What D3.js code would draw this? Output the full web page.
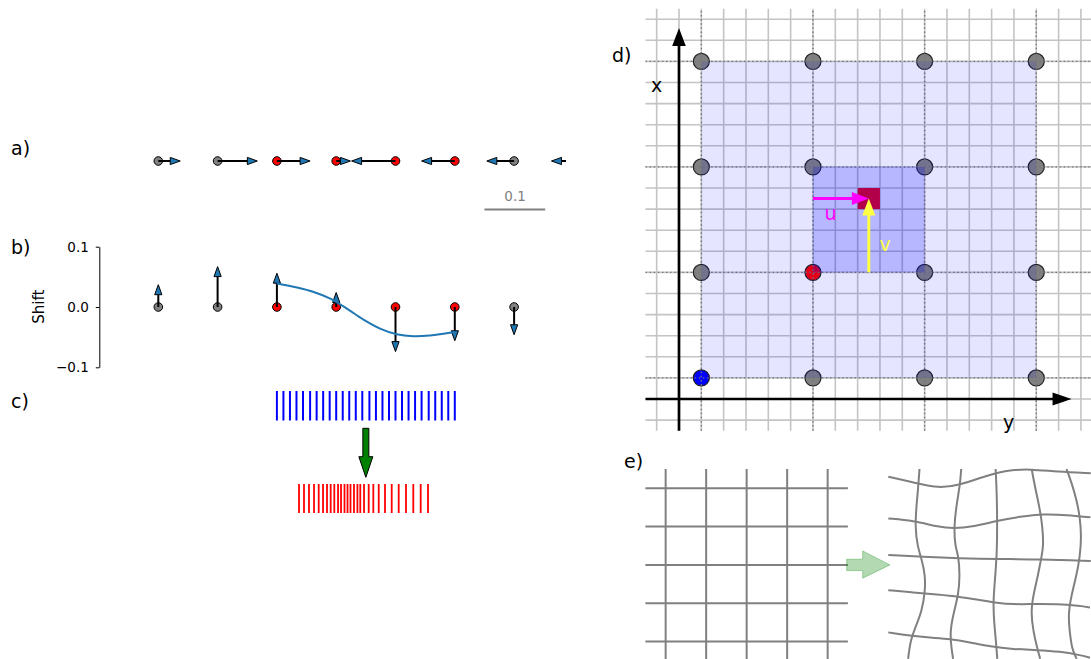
<!DOCTYPE html>
<html><head><meta charset="utf-8">
<script src="https://cdn.jsdelivr.net/npm/d3@7"></script>
<style>body{margin:0;background:#fff}svg{display:block;font-family:"DejaVu Sans",sans-serif}</style>
</head><body>
<svg id="fig" width="1091" height="659"></svg>
<script>
// ---------- data ----------
const pointX = [0, 0.1, 0.2, 0.3, 0.4, 0.5, 0.6, 0.7];
const pointKind = ['fixed','fixed','moving','moving','moving','moving','fixed','fixed'];
const shifts = [0.037, 0.067, 0.056, 0.024, -0.074, -0.056, -0.046, -0.037];
const curveX = [0.200, 0.234, 0.262, 0.290, 0.318, 0.346, 0.374, 0.402, 0.430, 0.458, 0.500];
const curveY = [0.0388, 0.0322, 0.0249, 0.0139, -0.0027, -0.0209, -0.0358, -0.0453, -0.0486, -0.0474, -0.0415];
const shiftTicks = [-0.1, 0.0, 0.1];
const scaleBarLabel = "0.1";
const blueLines = [0.200,0.211,0.222,0.233,0.244,0.256,0.267,0.278,0.289,0.300,0.311,0.322,0.333,0.344,
                   0.356,0.367,0.378,0.389,0.400,0.411,0.422,0.433,0.444,0.456,0.467,0.478,0.489,0.500];
const redLines = [0.2373,0.2457,0.2541,0.2626,0.2705,0.2778,0.2845,0.2907,0.2968,0.3031,0.3081,0.3140,0.3191,0.3241,
                  0.3300,0.3358,0.3406,0.3469,0.3548,0.3626,0.3717,0.3823,0.3936,0.4054,0.4177,0.4300,0.4425,0.4548];
// panel d (grid units)
const dFine = [-1,0,1,2,3,4,5,6,7,8,9,10,11,12,13,14,15,16,17,18];
const dNodes = [1, 6, 11, 16];
const dRedNode = [6, 6];
const dBlueNode = [1, 1];
const dOuterCell = [1, 16];
const dInnerCell = [6, 11];
const dTarget = {x0: 8, x1: 9, y0: 9, y1: 10};
const dU = {x0: 6, y0: 9.5, x1: 8.5, y1: 9.5};
const dV = {x0: 8.5, y0: 6, x1: 8.5, y1: 9.5};
// panel e (grid units)
const eRegular = [0.5, 1.5, 2.5, 3.5, 4.5];
const eWarpH = [
  [[0,0.20],[0.70,0.37],[1.23,0.50],[1.77,0.42],[2.35,0.20],[2.92,0.03],[3.50,0.0],[4.16,0.07],[5.0,0.11]],
  [[0,1.29],[0.62,1.35],[1.20,1.50],[1.61,1.56],[2.11,1.50],[2.68,1.35],[3.26,1.24],[3.84,1.17],[4.41,1.20],[4.99,1.26]],
  [[0,2.24],[0.86,2.29],[1.77,2.33],[2.68,2.35],[3.75,2.35],[5.0,2.40]],
  [[0,3.16],[0.62,3.22],[1.20,3.27],[1.77,3.33],[2.26,3.42],[2.68,3.49],[3.09,3.53],[3.58,3.52],[4.16,3.52],[4.73,3.57],[4.98,3.61]],
  [[0,4.26],[0.54,4.35],[1.03,4.40],[1.52,4.43],[2.02,4.52],[2.51,4.63],[3.09,4.70],[3.66,4.72],[4.24,4.76],[4.73,4.85],[4.98,4.92]]
];
const eWarpV = [
  [[0.77,0],[0.74,0.46],[0.70,0.89],[0.66,1.50],[0.72,2.02],[0.83,2.37],[0.91,2.76],[0.91,3.19],[0.83,3.71],[0.66,4.15],[0.54,4.50],[0.49,4.95]],
  [[1.80,0],[1.77,0.42],[1.69,0.89],[1.62,1.50],[1.65,2.02],[1.73,2.24],[1.77,2.76],[1.73,3.29],[1.62,3.72],[1.52,4.24],[1.56,4.68],[1.60,4.95]],
  [[2.65,0],[2.68,0.64],[2.69,1.50],[2.68,2.24],[2.63,2.94],[2.59,3.46],[2.61,3.98],[2.66,4.50],[2.69,4.95]],
  [[3.54,0],[3.62,0.46],[3.73,0.98],[3.81,1.50],[3.83,2.02],[3.79,2.24],[3.70,2.76],[3.58,3.29],[3.52,3.72],[3.58,4.24],[3.68,4.68],[3.75,4.95]],
  [[4.40,0],[4.53,0.37],[4.65,0.81],[4.73,1.24],[4.77,1.77],[4.73,2.29],[4.65,2.76],[4.52,3.29],[4.44,3.81],[4.48,4.24],[4.53,4.68],[4.65,4.95]]
];

// ---------- setup ----------
const svg = d3.select('#fig');
const BLUE = '#1f77b4';
const kindColor = k => k === 'moving' ? '#ff0000' : '#808080';

const defs = svg.append('defs');
defs.append('clipPath').attr('id','clipAB').append('rect').attr('x',0).attr('y',0).attr('width',566).attr('height',400);

function arrowHead(g, x1, y1, x2, y2, len, hw, fill, stroke, sw) {
  const dx = x2 - x1, dy = y2 - y1, L = Math.hypot(dx, dy);
  const ux = dx / L, uy = dy / L, px = -uy, py = ux;
  const bx = x2 - ux * len, by = y2 - uy * len;
  g.append('polygon')
    .attr('points', [[x2, y2], [bx + px * hw, by + py * hw], [bx - px * hw, by - py * hw]].map(p => p.join(',')).join(' '))
    .attr('fill', fill).attr('stroke', stroke || 'none').attr('stroke-width', sw || 0)
    .attr('stroke-linejoin', 'miter');
  return [bx, by];
}
function quiverArrow(g, x1, y1, x2, y2) {
  const dx = x2 - x1, dy = y2 - y1, L = Math.hypot(dx, dy);
  const ux = dx / L, uy = dy / L;
  const len = 10;
  g.append('line').attr('x1', x1).attr('y1', y1).attr('x2', x2 - ux * len).attr('y2', y2 - uy * len)
    .attr('stroke', '#000').attr('stroke-width', 2);
  arrowHead(g, x1, y1, x2, y2, len, 3.6, BLUE, '#000', 1);
}

// panel letters
const letters = [['a)', 11, 155], ['b)', 11, 254], ['c)', 11, 408], ['d)', 612, 62], ['e)', 624, 468]];
svg.selectAll('text.letter').data(letters).enter().append('text').attr('class','letter')
  .attr('x', d => d[1]).attr('y', d => d[2]).attr('font-size', 19).text(d => d[0]);

// ---------- panel a ----------
const xA = d3.scaleLinear().domain([0, 0.7]).range([158.3, 573.4]);
const gA = svg.append('g').attr('clip-path', 'url(#clipAB)');
const rowA = 161;
pointX.forEach((x, i) => {
  gA.append('circle').attr('cx', xA(x)).attr('cy', rowA).attr('r', 4.3)
    .attr('fill', kindColor(pointKind[i])).attr('stroke', '#000').attr('stroke-width', 1);
});
pointX.forEach((x, i) => {
  quiverArrow(gA, xA(x), rowA, xA(x + shifts[i]), rowA);
});
// scale bar
svg.append('line').attr('x1', xA(0.55)).attr('x2', xA(0.65) + 1.5).attr('y1', 209.5).attr('y2', 209.5)
  .attr('stroke', '#808080').attr('stroke-width', 2);
svg.append('text').attr('x', (xA(0.55) + xA(0.65)) / 2 + 1).attr('y', 200.5).attr('text-anchor', 'middle')
  .attr('font-size', 13.5).attr('fill', '#808080').text(scaleBarLabel);

// ---------- panel b ----------
const yB = d3.scaleLinear().domain([-0.1, 0.1]).range([367.3, 246.7]);
const axB = svg.append('g').attr('transform', 'translate(99.3,0)')
  .call(d3.axisLeft(yB).tickValues(shiftTicks).tickFormat(d3.format('.1f')).tickSize(3.5).tickSizeOuter(0).tickPadding(7));
axB.attr('font-size', null).attr('font-family', null);
axB.select('.domain').attr('stroke', '#000').attr('stroke-width', 1);
axB.selectAll('.tick line').attr('stroke', '#000').attr('stroke-width', 1);
axB.selectAll('.tick text').style('font-size', '13.5px').style('font-family', '"DejaVu Sans",sans-serif').attr('fill', '#000');
svg.append('text').attr('transform', 'translate(43.5,306.7) rotate(-90)').attr('text-anchor', 'middle')
  .style('font-size', '15px').text('Shift');
const gB = svg.append('g').attr('clip-path', 'url(#clipAB)');
pointX.forEach((x, i) => {
  gB.append('circle').attr('cx', xA(x)).attr('cy', yB(0)).attr('r', 4.3)
    .attr('fill', kindColor(pointKind[i])).attr('stroke', '#000').attr('stroke-width', 1);
});
pointX.forEach((x, i) => {
  quiverArrow(gB, xA(x), yB(0), xA(x), yB(shifts[i]));
});
gB.append('path').datum(curveX.map((x, i) => [x, curveY[i]]))
  .attr('d', d3.line().x(d => xA(d[0])).y(d => yB(d[1])).curve(d3.curveCatmullRom))
  .attr('fill', 'none').attr('stroke', BLUE).attr('stroke-width', 2);

// ---------- panel c ----------
const gC = svg.append('g');
gC.selectAll('line.blue').data(blueLines).enter().append('line')
  .attr('x1', d => xA(d)).attr('x2', d => xA(d)).attr('y1', 391).attr('y2', 420.5)
  .attr('stroke', '#0000ff').attr('stroke-width', 2);
gC.selectAll('line.red').data(redLines).enter().append('line')
  .attr('x1', d => xA(d)).attr('x2', d => xA(d)).attr('y1', 484).attr('y2', 513)
  .attr('stroke', '#ff0000').attr('stroke-width', 1.8);
{
  const cx = xA(0.35);
  const pts = [[cx - 3, 428.3], [cx + 3, 428.3], [cx + 3, 456.7], [cx + 7, 456.7], [cx, 477.3], [cx - 7, 456.7], [cx - 3, 456.7]];
  gC.append('polygon').attr('points', pts.map(p => p.join(',')).join(' '))
    .attr('fill', '#008000').attr('stroke', '#000').attr('stroke-width', 1);
}

// ---------- panel d ----------
const xD = d3.scaleLinear().domain([-1.5, 18.5]).range([645.5, 1092.1]);
const yD = d3.scaleLinear().domain([-1.5, 18.5]).range([430.65, 8.65]);
const gD = svg.append('g');
dFine.forEach(v => {
  gD.append('line').attr('x1', xD(v)).attr('x2', xD(v)).attr('y1', yD(-1.5)).attr('y2', yD(18.5))
    .attr('stroke', '#c4c4c4').attr('stroke-width', 1.6);
  gD.append('line').attr('y1', yD(v)).attr('y2', yD(v)).attr('x1', xD(-1.5)).attr('x2', xD(18.5))
    .attr('stroke', '#c4c4c4').attr('stroke-width', 1.6);
});
dNodes.forEach(a => dNodes.forEach(b => {
  let fill = '#808080';
  if (a === dRedNode[0] && b === dRedNode[1]) fill = '#ff0000';
  if (a === dBlueNode[0] && b === dBlueNode[1]) fill = '#0000ff';
  gD.append('circle').attr('cx', xD(a)).attr('cy', yD(b)).attr('r', 8)
    .attr('fill', fill).attr('stroke', '#222').attr('stroke-width', 1.2);
}));
dNodes.forEach(v => {
  gD.append('line').attr('x1', xD(v)).attr('x2', xD(v)).attr('y1', yD(-1.5)).attr('y2', yD(18.5))
    .attr('stroke', '#777').attr('stroke-width', 1.4).attr('stroke-dasharray', '1.5 2.6');
  gD.append('line').attr('y1', yD(v)).attr('y2', yD(v)).attr('x1', xD(-1.5)).attr('x2', xD(18.5))
    .attr('stroke', '#777').attr('stroke-width', 1.4).attr('stroke-dasharray', '1.5 2.6');
});
gD.append('rect').attr('x', xD(dOuterCell[0])).attr('y', yD(dOuterCell[1]))
  .attr('width', xD(dOuterCell[1]) - xD(dOuterCell[0])).attr('height', yD(dOuterCell[0]) - yD(dOuterCell[1]))
  .attr('fill', '#0000ff').attr('fill-opacity', 0.1);
gD.append('rect').attr('x', xD(dInnerCell[0])).attr('y', yD(dInnerCell[1]))
  .attr('width', xD(dInnerCell[1]) - xD(dInnerCell[0])).attr('height', yD(dInnerCell[0]) - yD(dInnerCell[1]))
  .attr('fill', '#0000ff').attr('fill-opacity', 0.2);
gD.append('rect').attr('x', xD(dTarget.x0)).attr('y', yD(dTarget.y1))
  .attr('width', xD(dTarget.x1) - xD(dTarget.x0)).attr('height', yD(dTarget.y0) - yD(dTarget.y1))
  .attr('fill', '#b2004b');
// u arrow (magenta)
{
  const x1 = xD(dU.x0), y1 = yD(dU.y0), x2 = xD(dU.x1), y2 = yD(dU.y1);
  gD.append('line').attr('x1', x1).attr('y1', y1).attr('x2', x2 - 15).attr('y2', y2).attr('stroke', '#ff00ff').attr('stroke-width', 3);
  arrowHead(gD, x1, y1, x2, y2, 17, 6.5, '#ff00ff');
}
// v arrow (yellow)
{
  const x1 = xD(dV.x0), y1 = yD(dV.y0), x2 = xD(dV.x1), y2 = yD(dV.y1);
  gD.append('line').attr('x1', x1).attr('y1', y1).attr('x2', x2).attr('y2', y2 + 15).attr('stroke', '#ffff44').attr('stroke-width', 3);
  arrowHead(gD, x1, y1, x2, y2, 17, 6.5, '#ffff44');
}
// axes
{
  const tip = 17.58;
  gD.append('line').attr('x1', xD(0)).attr('x2', xD(0)).attr('y1', yD(-1.5)).attr('y2', yD(tip) + 15)
    .attr('stroke', '#000').attr('stroke-width', 2.7);
  arrowHead(gD, xD(0), yD(0), xD(0), yD(tip), 18, 6.8, '#000');
  gD.append('line').attr('x1', xD(-1.5)).attr('x2', xD(tip) - 15).attr('y1', yD(0)).attr('y2', yD(0))
    .attr('stroke', '#000').attr('stroke-width', 2.7);
  arrowHead(gD, xD(0), yD(0), xD(tip), yD(0), 19, 6.5, '#000');
}
gD.append('text').attr('x', 651).attr('y', 92).attr('font-size', 19).text('x');
gD.append('text').attr('x', 1003).attr('y', 428.5).attr('font-size', 19).text('y');
gD.append('text').attr('x', 824.5).attr('y', 220).attr('font-size', 19).attr('fill', '#ff00ff').text('u');
gD.append('text').attr('x', 879.5).attr('y', 251).attr('font-size', 19).attr('fill', '#ffff44').text('v');

// ---------- panel e ----------
const eXL = d3.scaleLinear().domain([0, 5]).range([645.4, 847.9]);
const eXR = d3.scaleLinear().domain([0, 5]).range([888.3, 1090.8]);
const eY = d3.scaleLinear().domain([0, 5]).range([469, 660.75]);
const gE = svg.append('g');
eRegular.forEach(v => {
  gE.append('line').attr('x1', eXL(v)).attr('x2', eXL(v)).attr('y1', eY(0)).attr('y2', eY(5))
    .attr('stroke', '#808080').attr('stroke-width', 2);
  gE.append('line').attr('y1', eY(v)).attr('y2', eY(v)).attr('x1', eXL(0)).attr('x2', eXL(5))
    .attr('stroke', '#808080').attr('stroke-width', 2);
});
const warpLine = d3.line().x(d => eXR(d[0])).y(d => eY(d[1])).curve(d3.curveBasis);
eWarpH.concat(eWarpV).forEach(pts => {
  gE.append('path').attr('d', warpLine(pts)).attr('fill', 'none').attr('stroke', '#808080').attr('stroke-width', 2);
});
{
  const y = eY(2.5);
  const pts = [[846.7, y - 5.7], [862.7, y - 5.7], [862.7, y - 14], [890, y], [862.7, y + 13.3], [862.7, y + 5.7], [846.7, y + 5.7]];
  gE.append('polygon').attr('points', pts.map(p => p.join(',')).join(' '))
    .attr('fill', '#008000').attr('fill-opacity', 0.3).attr('stroke', '#008000').attr('stroke-opacity', 0.3).attr('stroke-width', 1);
}
</script>
</body></html>
